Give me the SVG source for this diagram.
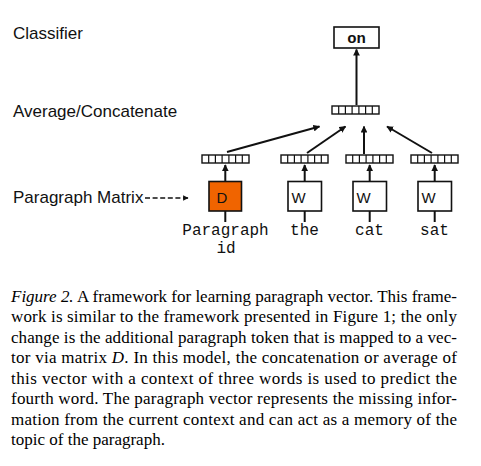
<svg xmlns="http://www.w3.org/2000/svg" width="481" height="466" viewBox="0 0 481 466">
<style>
.lbl{font-family:"Liberation Sans",Arial,sans-serif;font-size:17px;fill:#111}
.mono{font-family:"Liberation Mono","Courier New",monospace;font-size:16px;fill:#111;text-anchor:middle}
.cap{font-family:"Liberation Serif","Times New Roman",serif;font-size:17px;fill:#000}
.box{fill:#fff;stroke:#111;stroke-width:1.6}
.vec{fill:#fff;stroke:#111;stroke-width:1.4}
.cell{stroke:#111;stroke-width:1.2}
.conn{stroke:#111;stroke-width:2;fill:none}
.letter{font-family:"Liberation Sans",Arial,sans-serif;font-size:15px;fill:#111}
</style>
<defs>
<marker id="ah" viewBox="0 0 10 10" refX="9" refY="5" markerWidth="3.4" markerHeight="3.4" orient="auto" markerUnits="strokeWidth">
<path d="M0,0 L10,5 L0,10 z" fill="#111"/>
</marker>
<g id="cells">
<rect class="vec" x="0" y="0" width="47" height="8"/>
<line class="cell" x1="6.7" y1="0" x2="6.7" y2="8"/>
<line class="cell" x1="13.4" y1="0" x2="13.4" y2="8"/>
<line class="cell" x1="20.1" y1="0" x2="20.1" y2="8"/>
<line class="cell" x1="26.9" y1="0" x2="26.9" y2="8"/>
<line class="cell" x1="33.6" y1="0" x2="33.6" y2="8"/>
<line class="cell" x1="40.3" y1="0" x2="40.3" y2="8"/>
</g>
</defs>
<rect width="481" height="466" fill="#fff"/>

<g id="labels">
<text class="lbl" x="13" y="39">Classifier</text>
<text class="lbl" x="13" y="117">Average/Concatenate</text>
<text class="lbl" x="13" y="203">Paragraph Matrix</text>
</g>

<g id="node-on">
<rect class="box" x="334" y="27" width="45" height="21"/>
<text x="356.5" y="43" style="font-family:'Liberation Mono','Courier New',monospace;font-size:15.5px;font-weight:bold;text-anchor:middle;fill:#111">on</text>
</g>

<g id="node-avg"><use href="#cells" x="332" y="106"/></g>
<g id="node-vec-d"><use href="#cells" x="202" y="155"/></g>
<g id="node-vec-the"><use href="#cells" x="281" y="155"/></g>
<g id="node-vec-cat"><use href="#cells" x="346" y="155"/></g>
<g id="node-vec-sat"><use href="#cells" x="411" y="155"/></g>

<g id="node-d">
<rect x="209" y="181.5" width="32.5" height="29.5" fill="#F06400" stroke="#111" stroke-width="1.6"/>
<text class="letter" x="216.5" y="203.3">D</text>
</g>
<g id="node-w1">
<rect class="box" x="288" y="181.5" width="33.5" height="29.5"/>
<text class="letter" x="291.5" y="203.3">W</text>
</g>
<g id="node-w2">
<rect class="box" x="353" y="181.5" width="33.5" height="29.5"/>
<text class="letter" x="356.5" y="203.3">W</text>
</g>
<g id="node-w3">
<rect class="box" x="418" y="181.5" width="33.5" height="29.5"/>
<text class="letter" x="421.5" y="203.3">W</text>
</g>

<g id="words">
<text class="mono" x="225.5" y="235">Paragraph</text>
<text class="mono" x="226" y="253">id</text>
<text class="mono" x="304.5" y="235">the</text>
<text class="mono" x="369.5" y="235">cat</text>
<text class="mono" x="434.5" y="235">sat</text>
</g>

<g id="connectors">
<line class="conn" x1="356.5" y1="105" x2="356.5" y2="49.5" marker-end="url(#ah)"/>
<line class="conn" x1="227" y1="152" x2="319.5" y2="126.5" marker-end="url(#ah)"/>
<line class="conn" x1="307" y1="153" x2="345.5" y2="126.5" marker-end="url(#ah)"/>
<line class="conn" x1="364" y1="154" x2="364" y2="126.5" marker-end="url(#ah)"/>
<line class="conn" x1="432" y1="153" x2="387" y2="126.5" marker-end="url(#ah)"/>
<line class="conn" x1="225.3" y1="181" x2="225.3" y2="165" marker-end="url(#ah)"/>
<line class="conn" x1="304.7" y1="181" x2="304.7" y2="165" marker-end="url(#ah)"/>
<line class="conn" x1="369.7" y1="181" x2="369.7" y2="165" marker-end="url(#ah)"/>
<line class="conn" x1="434.7" y1="181" x2="434.7" y2="165" marker-end="url(#ah)"/>
<line class="conn" x1="225.3" y1="211" x2="225.3" y2="222"/>
<line class="conn" x1="304.7" y1="211" x2="304.7" y2="222"/>
<line class="conn" x1="369.7" y1="211" x2="369.7" y2="222"/>
<line class="conn" x1="434.7" y1="211" x2="434.7" y2="222"/>
<line x1="145" y1="198" x2="188" y2="198" stroke="#111" stroke-width="1.6" stroke-dasharray="5,2.6" marker-end="url(#ah)"/>
</g>

<g id="caption">
<text class="cap" x="11" y="301.5" textLength="446" lengthAdjust="spacing"><tspan font-style="italic">Figure 2.</tspan> A framework for learning paragraph vector. This frame-</text>
<text class="cap" x="11" y="322" textLength="446" lengthAdjust="spacing">work is similar to the framework presented in Figure 1; the only</text>
<text class="cap" x="11" y="342.5" textLength="446" lengthAdjust="spacing">change is the additional paragraph token that is mapped to a vec-</text>
<text class="cap" x="11" y="363" textLength="446" lengthAdjust="spacing">tor via matrix <tspan font-style="italic">D</tspan>.  In this model, the concatenation or average of</text>
<text class="cap" x="11" y="383.5" textLength="446" lengthAdjust="spacing">this vector with a context of three words is used to predict the</text>
<text class="cap" x="11" y="404" textLength="446" lengthAdjust="spacing">fourth word.  The paragraph vector represents the missing infor-</text>
<text class="cap" x="11" y="424.5" textLength="446" lengthAdjust="spacing">mation from the current context and can act as a memory of the</text>
<text class="cap" x="11" y="445">topic of the paragraph.</text>
</g>
</svg>
